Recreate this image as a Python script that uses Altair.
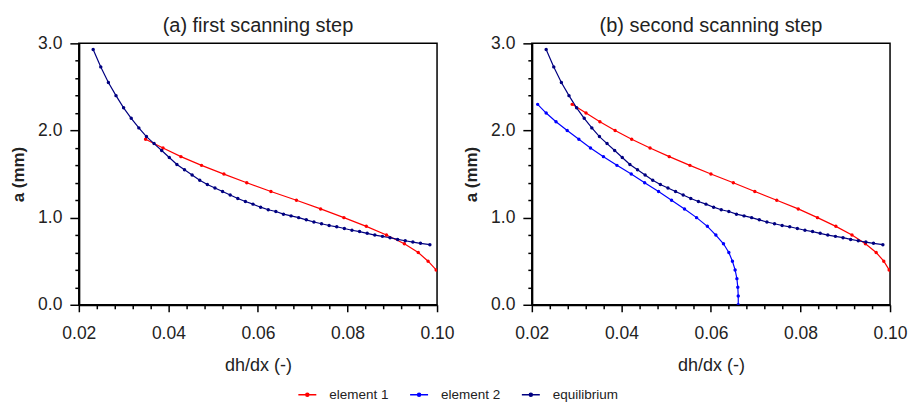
import altair as alt
import pandas as pd

# ---- data ----
series_names = ["element 1", "element 2", "equilibrium"]
series_colors = ["#ff0000", "#0000ff", "#000080"]

eq_x = [0.0232, 0.0249, 0.0266, 0.0283, 0.0300, 0.0317, 0.0334, 0.0351, 0.0368,
        0.0385, 0.0402, 0.0419, 0.0436, 0.0453, 0.0470, 0.0487, 0.0504, 0.0521,
        0.0538, 0.0555, 0.0572, 0.0589, 0.0606, 0.0623, 0.0640, 0.0657, 0.0674,
        0.0691, 0.0708, 0.0725, 0.0742, 0.0759, 0.0776, 0.0793, 0.0810, 0.0827,
        0.0844, 0.0861, 0.0878, 0.0895, 0.0912, 0.0929, 0.0946, 0.0963, 0.0984]
eq_a = [2.93, 2.73, 2.55, 2.40, 2.26, 2.14, 2.03, 1.93, 1.85, 1.77, 1.69, 1.61,
        1.55, 1.49, 1.43, 1.38, 1.34, 1.30, 1.26, 1.22, 1.185, 1.155, 1.12, 1.09,
        1.07, 1.04, 1.02, 1.00, 0.975, 0.95, 0.93, 0.91, 0.895, 0.875, 0.855, 0.84,
        0.82, 0.80, 0.785, 0.77, 0.75, 0.735, 0.72, 0.705, 0.69]

# panel (a) element 1
e1a_x = [0.0349, 0.0388, 0.0428, 0.0474, 0.0524, 0.0575, 0.0629, 0.0686, 0.0740,
         0.0792, 0.0842, 0.0887, 0.0927, 0.0958, 0.0980, 0.0998]
e1a_a = [1.9, 1.8, 1.7, 1.6, 1.5, 1.4, 1.3, 1.2, 1.1, 1.0, 0.9, 0.8, 0.7, 0.6, 0.5, 0.4]

# panel (b) element 1
e1b_x = [0.0290, 0.0321, 0.0352, 0.0386, 0.0423, 0.0464, 0.0507, 0.0553, 0.0600,
         0.0650, 0.0698, 0.0747, 0.0795, 0.0838, 0.0879, 0.0915, 0.0945, 0.0969,
         0.0986, 0.0998]
e1b_a = [2.3, 2.2, 2.1, 2.0, 1.9, 1.8, 1.7, 1.6, 1.5, 1.4, 1.3, 1.2, 1.1, 1.0,
         0.9, 0.8, 0.7, 0.6, 0.5, 0.4]

# panel (b) element 2
e2b_x = [0.0213, 0.0232, 0.0254, 0.0279, 0.0305, 0.0331, 0.0360, 0.0390, 0.0422,
         0.0452, 0.0483, 0.0512, 0.0541, 0.0568, 0.0592, 0.0611, 0.0628, 0.0640,
         0.0648, 0.0654, 0.0658, 0.0660, 0.0661, 0.0661]
e2b_a = [2.3, 2.2, 2.1, 2.0, 1.9, 1.8, 1.7, 1.6, 1.5, 1.4, 1.3, 1.2, 1.1, 1.0,
         0.9, 0.8, 0.7, 0.6, 0.5, 0.4, 0.3, 0.2, 0.1, 0.0]

x_ticks = [0.02, 0.024, 0.028, 0.032, 0.036, 0.04, 0.044, 0.048, 0.052, 0.056,
           0.06, 0.064, 0.068, 0.072, 0.076, 0.08, 0.084, 0.088, 0.092, 0.096, 0.10]
y_ticks = [0.0, 0.2, 0.4, 0.6, 0.8, 1.0, 1.2, 1.4, 1.6, 1.8, 2.0, 2.2, 2.4, 2.6,
           2.8, 3.0]

titles = ["(a) first scanning step", "(b) second scanning step"]


def table(parts):
    rows = []
    for name, xs, ys in parts:
        for i, (xv, yv) in enumerate(zip(xs, ys)):
            rows.append({"series": name, "x": xv, "a": yv, "i": i})
    return pd.DataFrame(rows)


df_a = table([("element 1", e1a_x, e1a_a), ("equilibrium", eq_x, eq_a)])
df_b = table([("element 1", e1b_x, e1b_a), ("element 2", e2b_x, e2b_a),
              ("equilibrium", eq_x, eq_a)])

FONT = "Liberation Sans"

x_major = "abs(datum.value*50 - round(datum.value*50)) < 0.001"
y_major = "abs(datum.value - round(datum.value)) < 0.001"

legend = alt.Legend(
    title=None, orient="none", direction="horizontal",
    legendX=219, legendY=342,
    symbolType="M-1,0H1M-0.17,0a0.17,0.17 0 1,0 0.34,0a0.17,0.17 0 1,0 -0.34,0",
    symbolSize=324, symbolStrokeWidth=1.5,
    labelFont=FONT, labelFontSize=13.5, labelColor="#222",
    columnPadding=18, labelOffset=12,
)


def panel(df, title):
    return alt.Chart(df).mark_line(
        strokeWidth=1.2, clip=True,
        point=alt.OverlayMarkDef(filled=True, size=12, opacity=1),
    ).encode(
        x=alt.X("x:Q", scale=alt.Scale(domain=[0.02, 0.10], nice=False, zero=False),
                axis=alt.Axis(values=x_ticks, title="dh/dx (-)",
                              labelExpr=x_major + " ? format(datum.value, '.2f') : ''",
                              tickSize={"condition": {"test": x_major, "value": 7}, "value": 4},
                              labelPadding=13, titlePadding=14, labelFlush=False,
                              labelOverlap=False, titleFontSize=18)),
        y=alt.Y("a:Q", scale=alt.Scale(domain=[0, 3], nice=False),
                axis=alt.Axis(values=y_ticks, title="a (mm)",
                              labelExpr=y_major + " ? format(datum.value, '.1f') : ''",
                              tickSize={"condition": {"test": y_major, "value": 9}, "value": 4},
                              labelPadding=8, titlePadding=10, labelFlush=False,
                              labelOverlap=False, titleFontWeight="bold",
                              titleFontSize=17)),
        color=alt.Color("series:N",
                        scale=alt.Scale(domain=series_names, range=series_colors),
                        legend=legend),
        order=alt.Order("i:Q"),
    ).properties(
        width=359, height=262,
        title=alt.TitleParams(title, font=FONT, fontSize=20, fontWeight="normal",
                              color="#222", offset=-2),
    )


chart = alt.hconcat(panel(df_a, titles[0]), panel(df_b, titles[1]), spacing=6).properties(
    padding={"left": 0, "top": 7, "right": 0, "bottom": 0}
).configure_view(
    stroke="black", strokeWidth=1.5
).configure_axis(
    labelFont=FONT, labelFontSize=17.5, labelColor="#222",
    titleFont=FONT, titleColor="#222", titleFontWeight="normal",
    domainColor="black", domainWidth=2, tickColor="black", tickWidth=1.5,
    grid=False,
)

chart.save("out.html", embed_options={"renderer": "svg", "actions": False})
